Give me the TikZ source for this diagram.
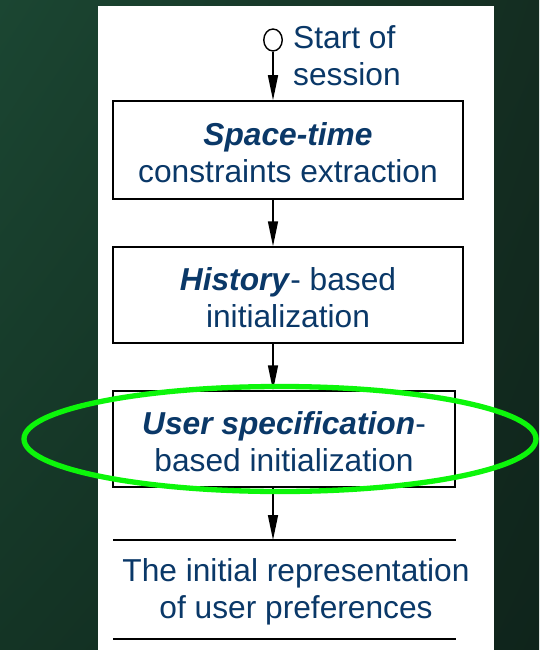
\documentclass[tikz,border=0pt]{standalone}
\usepackage{fontspec}
\setmainfont{Liberation Sans}
\usetikzlibrary{arrows.meta,shapes.geometric,shadings}
\definecolor{inkblue}{RGB}{10,56,104}
\definecolor{ringgreen}{RGB}{12,246,10}
\definecolor{bgUL}{RGB}{27,70,50}
\definecolor{bgLL}{RGB}{20,52,37}
\definecolor{bgUR}{RGB}{20,45,33}
\definecolor{bgLR}{RGB}{15,36,27}
% a strut that lowers a two-line label a little inside its box
\newcommand{\toppad}{\rule{0pt}{27.5pt}}
\tikzset{
  stepbox/.style={draw=black, line width=1.5pt, fill=white, inner sep=0pt,
    align=center, text=inkblue, minimum width=350pt},
  flowarrow/.style={line width=1.5pt, -{Triangle[length=25pt,width=10pt]}},
  rulebar/.style={line width=1.5pt},
  startdot/.style={draw=black, line width=1.4pt, ellipse, fill=white,
    minimum width=18.5pt, minimum height=22pt, inner sep=0pt},
  plaintext/.style={inner sep=0pt, text=inkblue},
}
\begin{document}
\begin{tikzpicture}[x=1pt, y=-1pt,
  every node/.append style={font=\fontsize{31.7}{37}\selectfont}]
  \useasboundingbox (0,0) rectangle (539,650);
  % backdrop and white sheet
  \shade[upper left=bgUL, lower left=bgLL, upper right=bgUR, lower right=bgLR]
    (0,0) rectangle (539,650);
  \fill[white] (98,6) rectangle (494,650);

  % start marker and its caption
  \node[startdot] (start) at (273,40) {};
  \node[plaintext, align=left, anchor=north west] (startlbl) at (293,25)
    {Start of\\session};

  % processing steps
  \node[stepbox, minimum height=98pt] (b1) at (288,150)
    {\toppad\textbf{\textit{Space-time}}\\constraints extraction};
  \node[stepbox, minimum height=96pt] (b2) at (288,295)
    {\toppad\textbf{\textit{History}}- based\\initialization};
  \node[stepbox, minimum height=96pt, minimum width=342pt] (b3) at (284,439)
    {\toppad\textbf{\textit{User specification}}-\\based initialization};

  % resulting data store (two rules with text between)
  \coordinate (rtopL) at (113,540);
  \coordinate (rtopR) at (456,540);
  \coordinate (rbotL) at (113,639);
  \coordinate (rbotR) at (456,639);
  \coordinate (rin) at (273,540);
  \draw[rulebar] (rtopL) -- (rtopR);
  \draw[rulebar] (rbotL) -- (rbotR);
  \node[plaintext, align=center] (result) at (296,592)
    {The initial representation\\of user preferences};

  % flow
  \draw[flowarrow] (start.south) -- (start.south |- b1.north);
  \draw[flowarrow] (b1.south -| start) -- (b2.north -| start);
  \draw[flowarrow] (b2.south -| start) -- (b3.north -| start);
  \draw[flowarrow] (b3.south -| start) -- (rin);

  % highlight ring
  \draw[ringgreen, line width=5.3pt] (280,439) ellipse [x radius=256pt, y radius=52.5pt];
\end{tikzpicture}
\end{document}
